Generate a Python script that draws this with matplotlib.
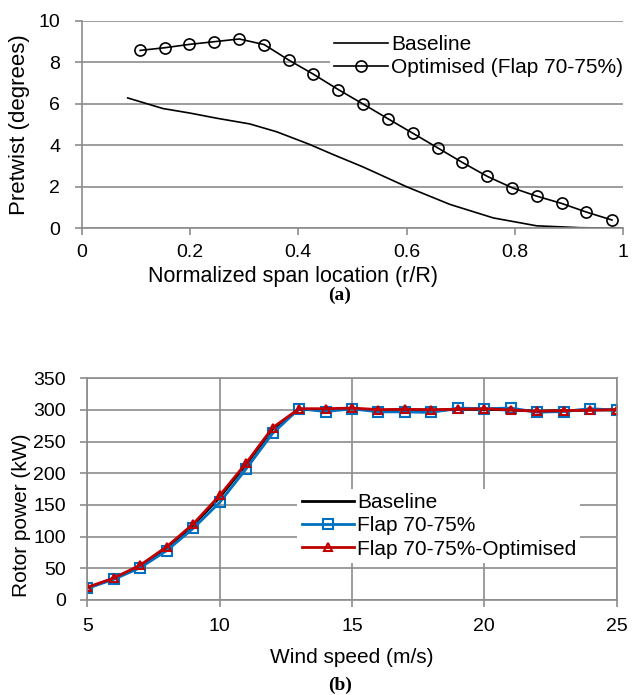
import numpy as np
import matplotlib
matplotlib.use("Agg")
import matplotlib.pyplot as plt

plt.rcParams["font.family"] = ["Liberation Sans", "DejaVu Sans"]
plt.rcParams["font.size"] = 14

# (a) pretwist distribution
span_base = [0.085, 0.15, 0.2, 0.25, 0.31, 0.36, 0.42, 0.46, 0.52, 0.6,
             0.68, 0.76, 0.84, 0.92, 1.0]
twist_base = [6.28, 5.77, 5.55, 5.3, 5.03, 4.65, 4.05, 3.6, 2.95, 2.0,
              1.15, 0.5, 0.12, 0.03, 0.0]
span_opt = [0.108, 0.154, 0.199, 0.245, 0.291, 0.337, 0.382, 0.428, 0.474,
            0.520, 0.566, 0.612, 0.657, 0.703, 0.749, 0.795, 0.840, 0.886,
            0.932, 0.979]
twist_opt = [8.57, 8.70, 8.86, 8.99, 9.12, 8.85, 8.11, 7.42, 6.68, 5.98,
             5.27, 4.57, 3.88, 3.17, 2.50, 1.95, 1.55, 1.20, 0.78, 0.40]

# (b) rotor power curve
wind = list(range(5, 26))
p_base = [19, 34, 54, 83, 118, 162, 214, 270, 301, 300, 302, 299, 300, 299,
          301, 301, 300, 298, 299, 300, 300]
p_flap = [18.4, 32.6, 51, 78, 113, 154, 207, 263, 302, 297.5, 301.7, 297,
          297, 296, 303, 302, 303, 296.5, 297.5, 302, 299.7]
p_opt = [20, 34.7, 55, 84, 120, 165, 216, 272, 302, 302, 303, 300.6, 301,
         300.6, 301, 302, 300, 298, 299, 299.5, 300.6]

grid_c = "#8c8c8c"
leg_size = 15

fig = plt.figure(figsize=(6.33, 6.95), dpi=100)

# ---- top chart
ax1 = fig.add_axes([0.129, 0.6715, 0.8557, 0.2987])
ax1.plot(span_base, twist_base, color="black", lw=1.2, label="Baseline")
ax1.plot(span_opt, twist_opt, color="black", lw=1.2, marker="o", ms=8,
         mfc="none", mec="black", mew=1.2, label="Optimised (Flap 70-75%)")
ax1.set_xlim(0, 1)
ax1.set_ylim(0, 10)
ax1.set_xticks([0, 0.2, 0.4, 0.6, 0.8, 1])
ax1.set_xticklabels(["0", "0.2", "0.4", "0.6", "0.8", "1"])
ax1.set_yticks(range(0, 11, 2))
ax1.yaxis.grid(True, color=grid_c, lw=1.2)
ax1.set_axisbelow(True)
for s in ["top", "right"]:
    ax1.spines[s].set_visible(False)
for s in ["left", "bottom"]:
    ax1.spines[s].set_color(grid_c)
    ax1.spines[s].set_linewidth(1.2)
ax1.tick_params(color=grid_c, width=1.2, length=5)
ax1.tick_params(axis="x", pad=6)
ax1.tick_params(axis="y", pad=10.5)
ax1.set_xlabel("Normalized span location (r/R)", size=15.5)
ax1.xaxis.set_label_coords(0.39, -0.18)
ax1.set_ylabel("Pretwist (degrees)", size=16)
ax1.yaxis.set_label_coords(-0.095, 0.5)
leg1 = ax1.legend(loc="upper left", bbox_to_anchor=(0.458, 0.95),
                  frameon=True, fancybox=False, edgecolor="none",
                  framealpha=1, handlelength=2.6, handletextpad=0.15,
                  labelspacing=0.2, borderpad=0.2, borderaxespad=0,
                  fontsize=leg_size)

# ---- bottom chart
ax2 = fig.add_axes([0.1379, 0.1367, 0.8364, 0.319])
ax2.plot(wind, p_base, color="black", lw=2, label="Baseline")
ax2.plot(wind, p_flap, color="#0070c0", lw=2, marker="s", ms=7,
         mfc="none", mec="#0070c0", mew=1.5, label="Flap 70-75%")
ax2.plot(wind, p_opt, color="#c00000", lw=2, marker="^", ms=5.5,
         mfc="none", mec="#c00000", mew=1.5, label="Flap 70-75%-Optimised")
ax2.set_xlim(5, 25)
ax2.set_ylim(0, 350)
ax2.set_xticks([5, 10, 15, 20, 25])
ax2.set_yticks(range(0, 351, 50))
ax2.grid(True, color=grid_c, lw=1.2)
ax2.set_axisbelow(True)
for s in ax2.spines.values():
    s.set_color(grid_c)
    s.set_linewidth(1.2)
ax2.tick_params(color=grid_c, width=1.2, length=5)
ax2.tick_params(axis="x", pad=8)
ax2.tick_params(axis="y", pad=10.5)
ax2.set_xlabel("Wind speed (m/s)", size=15, labelpad=9)
ax2.set_ylabel("Rotor power (kW)", size=15)
ax2.yaxis.set_label_coords(-0.106, 0.38)
leg2 = ax2.legend(loc="upper left", bbox_to_anchor=(0.397, 0.5),
                  frameon=True, fancybox=False, edgecolor="none",
                  framealpha=1, handlelength=2.5, handletextpad=0.15,
                  labelspacing=0.2, borderpad=0.2, borderaxespad=0,
                  fontsize=leg_size)

fig.text(0.537, 1 - 295 / 695, "(a)", ha="center", va="center",
         family=["Liberation Serif", "DejaVu Serif"], weight="bold", size=14)
fig.text(0.537, 1 - 685 / 695, "(b)", ha="center", va="center",
         family=["Liberation Serif", "DejaVu Serif"], weight="bold", size=14)

fig.savefig("out.png", dpi=100)
